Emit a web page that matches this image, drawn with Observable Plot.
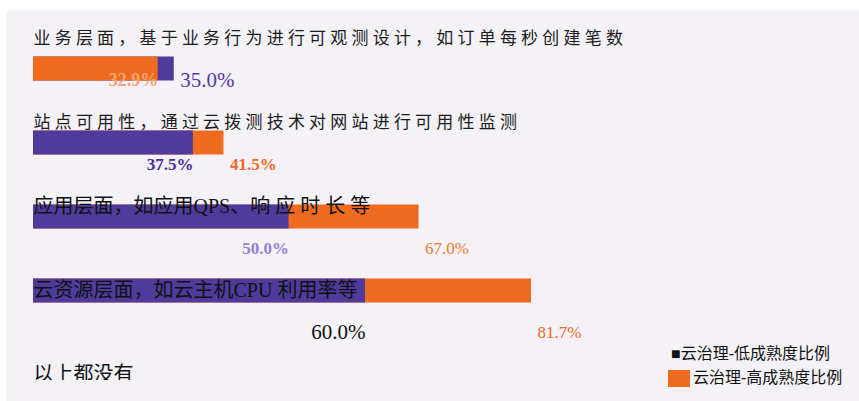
<!DOCTYPE html>
<html>
<head>
<meta charset="utf-8">
<script src="https://cdn.jsdelivr.net/npm/d3@7"></script>
<script src="https://cdn.jsdelivr.net/npm/@observablehq/plot@0.6"></script>
<style>
  html, body { margin: 0; padding: 0; background: #ffffff; }
  #wrap { position: relative; width: 859px; height: 401px; overflow: hidden; }
  #panel { position: absolute; left: 6px; top: 10px; right: 0; bottom: 0; background: #f4f1f7; }
  #bars, #labels { position: absolute; left: 0; top: 0; }
  #legend { position: absolute; left: 668px; top: 342px; font-family: "Liberation Serif", "Noto Sans CJK SC", serif; font-size: 16px; color: #111; line-height: 24px; }
  #legend .row { display: flex; align-items: center; white-space: nowrap; }
  #legend .sw { display: inline-block; width: 22px; height: 17px; background: #ee6b1f; margin-right: 3px; filter: blur(0.6px); }
</style>
</head>
<body>
<div id="wrap">
  <div id="panel"></div>
  <div id="bars"></div>
  <div id="labels"></div>
  <div id="legend"></div>
</div>
<script>
// ---- data ----
const categories = [
  "业务层面，基于业务行为进行可观测设计，如订单每秒创建笔数",
  "站点可用性，通过云拨测技术对网站进行可用性监测",
  "应用层面，如应用QPS、响 应 时 长 等",
  "云资源层面，如云主机CPU 利用率等",
  "以上都没有"
];
const lowValues  = [35.0, 37.5, 50.0, 60.0, null];
const highValues = [32.9, 41.5, 67.0, 81.7, null];
const seriesNames = ["云治理-低成熟度比例", "云治理-高成熟度比例"];

// ---- styling ----
const seriesColor = {low: "#4f3b9b", high: "#ee6b1f"};
const labelStyle = {
  "0-low":  {fill: "#5537a7", size: 21, bold: false},
  "0-high": {fill: "#f5a36c", size: 18, bold: true},
  "1-low":  {fill: "#4a2d9e", size: 17, bold: true},
  "1-high": {fill: "#ee6a1e", size: 17, bold: true},
  "2-low":  {fill: "#9a80d0", size: 17, bold: true},
  "2-high": {fill: "#f07a30", size: 17, bold: false},
  "3-low":  {fill: "#111111", size: 21, bold: false},
  "3-high": {fill: "#ee6a1e", size: 17, bold: false}
};

const rows = [];
categories.forEach((c, i) => {
  const lo = lowValues[i], hi = highValues[i];
  if (lo != null) rows.push({cat: c, i, s: "low", v: lo, longer: lo > hi});
  if (hi != null) rows.push({cat: c, i, s: "high", v: hi, longer: hi > lo});
});
const drawOrder = rows.slice().sort((a, b) => b.v - a.v); // longer bars behind
const st = d => labelStyle[d.i + "-" + d.s];
const fmt = v => d3.format(".1f")(v) + "%";

const xScale = {domain: [0, 100], range: [-94, 671], axis: null};

// ---- bars ----
const barsPlot = Plot.plot({
  width: 859, height: 401,
  marginLeft: 33, marginRight: 0, marginTop: 0, marginBottom: 0,
  x: xScale,
  y: {type: "point", domain: categories, range: [68, 364], padding: 0, axis: null},
  color: {type: "identity"},
  style: {background: "transparent", overflow: "visible"},
  marks: [
    Plot.ruleY(drawOrder, {
      y: "cat", x1: () => 0, x2: "v",
      stroke: d => seriesColor[d.s], strokeWidth: 24, clip: true
    })
  ]
});
document.getElementById("bars").appendChild(barsPlot);

// ---- texts ----
const sansCats = categories.slice(0, 2);
const serifCats = categories.slice(2);
const valueMark = (subset, anchor, dx, bold) => Plot.text(subset, {
  x: "v", y: "cat", text: d => fmt(d.v), dy: 42, dx, textAnchor: anchor,
  fontFamily: "Liberation Serif", fontWeight: bold ? "bold" : "normal",
  fontSize: d => st(d).size, fill: d => st(d).fill
});
const labelsPlot = Plot.plot({
  width: 859, height: 380,
  marginLeft: 33, marginRight: 0, marginTop: 0, marginBottom: 0,
  x: xScale,
  y: {type: "point", domain: categories, range: [38, 374], padding: 0, axis: null},
  color: {type: "identity"},
  style: {background: "transparent", overflow: "hidden"},
  marks: [
    Plot.text(sansCats, {
      y: d => d, text: d => d, frameAnchor: "left", textAnchor: "start",
      fontFamily: "Noto Sans CJK SC", fontSize: 17, fill: "#1c1c1c"
    }),
    Plot.text(serifCats, {
      y: d => d, text: d => d, frameAnchor: "left", textAnchor: "start",
      fontFamily: "Liberation Serif, Noto Sans CJK SC", fontSize: 20, fill: "#111"
    }),
    valueMark(rows.filter(d => !d.longer && st(d).bold), "end", 0, true),
    valueMark(rows.filter(d => !d.longer && !st(d).bold), "end", 0, false),
    valueMark(rows.filter(d => d.longer && st(d).bold), "start", 6, true),
    valueMark(rows.filter(d => d.longer && !st(d).bold), "start", 6, false)
  ]
});
d3.select(labelsPlot).selectAll('g[aria-label="text"]').filter((d, i) => i === 0)
  .attr("letter-spacing", 4.2);
document.getElementById("labels").appendChild(labelsPlot);

// ---- legend ----
const legend = d3.select("#legend");
legend.append("div").attr("class", "row").style("padding-left", "3px").text("■" + seriesNames[0]);
const r2 = legend.append("div").attr("class", "row");
r2.append("span").attr("class", "sw");
r2.append("span").text(seriesNames[1]);
</script>
</body>
</html>
